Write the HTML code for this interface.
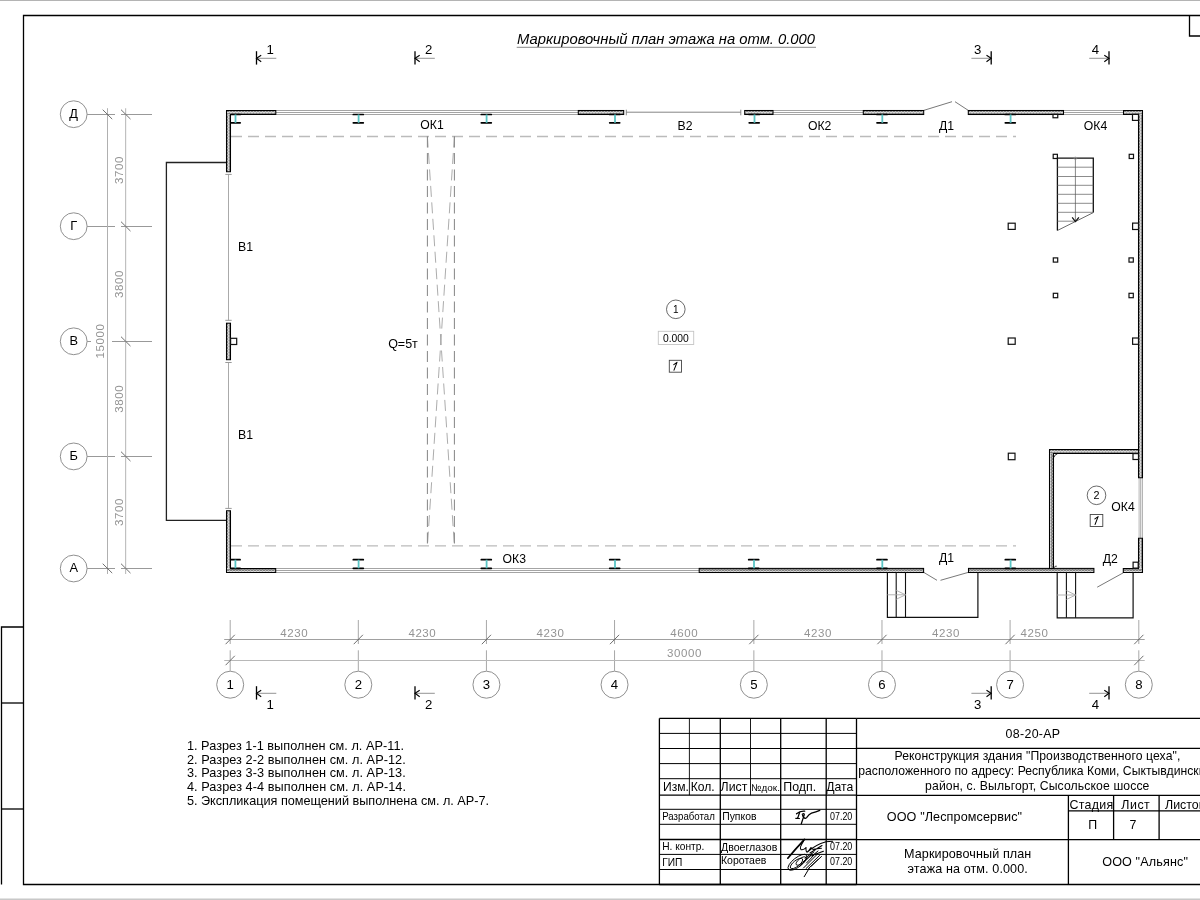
<!DOCTYPE html>
<html><head><meta charset="utf-8"><style>
html,body{margin:0;padding:0;background:#fff;width:1200px;height:900px;overflow:hidden}
svg{display:block;will-change:transform}
text{font-family:"Liberation Sans",sans-serif}
</style></head><body>
<svg width="1200" height="900" viewBox="0 0 1200 900">
<defs>
<pattern id="hatchH" patternUnits="userSpaceOnUse" x="0" y="111" width="3" height="3">
<rect width="3" height="3" fill="#7c7c7c"/>
<path d="M0,2.4 L1.5,0.7 L3,2.4" stroke="#ffffff" stroke-width="1.0" fill="none"/>
</pattern>
<pattern id="hatchV" patternUnits="userSpaceOnUse" x="227" y="0" width="3" height="3">
<rect width="3" height="3" fill="#7c7c7c"/>
<path d="M2.4,0 L0.7,1.5 L2.4,3" stroke="#ffffff" stroke-width="1.0" fill="none"/>
</pattern>
</defs>
<rect width="1200" height="900" fill="#fff"/>
<line x1="0" y1="0.5" x2="1200" y2="0.5" stroke="#b4b4b4" stroke-width="1.2"/>
<line x1="0" y1="899.3" x2="1200" y2="899.3" stroke="#c8c8c8" stroke-width="1.4"/>
<polyline points="1200,15.5 23.5,15.5 23.5,884.5 1200,884.5" stroke="#000" stroke-width="1.3" fill="none"/>
<polyline points="1189.5,15.5 1189.5,36 1200,36" stroke="#000" stroke-width="1.3" fill="none"/>
<polyline points="23.5,627 1.5,627 1.5,884.5" stroke="#000" stroke-width="1.3" fill="none"/>
<line x1="1.5" y1="703" x2="23.5" y2="703" stroke="#000" stroke-width="1.3"/>
<line x1="1.5" y1="809" x2="23.5" y2="809" stroke="#000" stroke-width="1.3"/>
<text x="517" y="43.7" font-size="14.8" text-anchor="start" fill="#000" font-style="italic">Маркировочный план этажа на отм. 0.000</text>
<line x1="516.7" y1="47.3" x2="816" y2="47.3" stroke="#888" stroke-width="1"/>
<line x1="231" y1="136.5" x2="1016" y2="136.5" stroke="#bbb" stroke-width="1.3" stroke-dasharray="11 6"/>
<line x1="231" y1="545.8" x2="1016" y2="545.8" stroke="#bbb" stroke-width="1.3" stroke-dasharray="11 6"/>
<line x1="427.4" y1="136.5" x2="427.4" y2="546" stroke="#666" stroke-width="0.8" stroke-dasharray="11 5.5"/>
<line x1="454.4" y1="136.5" x2="454.4" y2="546" stroke="#666" stroke-width="0.8" stroke-dasharray="11 5.5"/>
<line x1="427.4" y1="136.5" x2="454.4" y2="546" stroke="#888" stroke-width="0.7" stroke-dasharray="11 5.5"/>
<line x1="454.4" y1="136.5" x2="427.4" y2="546" stroke="#888" stroke-width="0.7" stroke-dasharray="11 5.5"/>
<polyline points="226.4,162.5 166.4,162.5 166.4,520.3 226.4,520.3" stroke="#222" stroke-width="1.3" fill="none"/>
<line x1="275.8" y1="110.5" x2="578.3" y2="110.5" stroke="#9a9a9a" stroke-width="0.9"/>
<line x1="275.8" y1="112.5" x2="578.3" y2="112.5" stroke="#9a9a9a" stroke-width="0.9"/>
<line x1="275.8" y1="114.5" x2="578.3" y2="114.5" stroke="#9a9a9a" stroke-width="0.9"/>
<line x1="773" y1="110.5" x2="863.3" y2="110.5" stroke="#9a9a9a" stroke-width="0.9"/>
<line x1="773" y1="112.5" x2="863.3" y2="112.5" stroke="#9a9a9a" stroke-width="0.9"/>
<line x1="773" y1="114.5" x2="863.3" y2="114.5" stroke="#9a9a9a" stroke-width="0.9"/>
<line x1="1063.5" y1="110.5" x2="1123.5" y2="110.5" stroke="#9a9a9a" stroke-width="0.9"/>
<line x1="1063.5" y1="112.5" x2="1123.5" y2="112.5" stroke="#9a9a9a" stroke-width="0.9"/>
<line x1="1063.5" y1="114.5" x2="1123.5" y2="114.5" stroke="#9a9a9a" stroke-width="0.9"/>
<line x1="275.7" y1="568.5" x2="699.2" y2="568.5" stroke="#9a9a9a" stroke-width="0.9"/>
<line x1="275.7" y1="570.5" x2="699.2" y2="570.5" stroke="#9a9a9a" stroke-width="0.9"/>
<line x1="275.7" y1="572.5" x2="699.2" y2="572.5" stroke="#9a9a9a" stroke-width="0.9"/>
<line x1="1139.2" y1="477.8" x2="1139.2" y2="538.3" stroke="#d4d4d4" stroke-width="1.8"/>
<line x1="1140.6" y1="477.8" x2="1140.6" y2="538.3" stroke="#a0a0a0" stroke-width="0.8"/>
<line x1="1142.3" y1="477.8" x2="1142.3" y2="538.3" stroke="#999" stroke-width="0.9"/>
<line x1="626.3" y1="112.2" x2="740.8" y2="112.2" stroke="#777" stroke-width="0.9"/>
<line x1="626.3" y1="109.7" x2="626.3" y2="115.3" stroke="#777" stroke-width="0.9"/>
<line x1="740.8" y1="109.7" x2="740.8" y2="115.3" stroke="#777" stroke-width="0.9"/>
<line x1="228.5" y1="174.4" x2="228.5" y2="320.3" stroke="#aaa" stroke-width="1"/>
<line x1="228.5" y1="362.5" x2="228.5" y2="508.4" stroke="#aaa" stroke-width="1"/>
<line x1="225.3" y1="174.4" x2="231.7" y2="174.4" stroke="#999" stroke-width="1"/>
<line x1="225.3" y1="320.3" x2="231.7" y2="320.3" stroke="#999" stroke-width="1"/>
<line x1="225.3" y1="362.5" x2="231.7" y2="362.5" stroke="#999" stroke-width="1"/>
<line x1="225.3" y1="508.4" x2="231.7" y2="508.4" stroke="#999" stroke-width="1"/>
<line x1="923.7" y1="110.4" x2="952" y2="101.7" stroke="#555" stroke-width="0.8"/>
<line x1="955" y1="101.7" x2="968.3" y2="110.4" stroke="#555" stroke-width="0.8"/>
<line x1="923.6" y1="572.3" x2="937" y2="580.3" stroke="#555" stroke-width="0.8"/>
<line x1="940.5" y1="580.3" x2="968.5" y2="572.3" stroke="#555" stroke-width="0.8"/>
<line x1="1123.3" y1="572.8" x2="1097.2" y2="587.2" stroke="#555" stroke-width="0.8"/>
<rect x="226.5" y="110.5" width="49.30000000000001" height="4.0" fill="url(#hatchH)"/>
<rect x="226.5" y="114.5" width="4.0" height="57.19999999999999" fill="url(#hatchV)"/>
<polygon points="226.5,110.5 275.8,110.5 275.8,114.5 230.5,114.5 230.5,171.7 226.5,171.7" stroke="#000" stroke-width="1.05" fill="none" stroke-linejoin="miter"/>
<rect x="578.3" y="110.5" width="45.40000000000009" height="4.0" stroke="#000" stroke-width="1.05" fill="url(#hatchH)"/>
<rect x="744.7" y="110.5" width="28.299999999999955" height="4.0" stroke="#000" stroke-width="1.05" fill="url(#hatchH)"/>
<rect x="863.3" y="110.5" width="60.40000000000009" height="4.0" stroke="#000" stroke-width="1.05" fill="url(#hatchH)"/>
<rect x="968.3" y="110.5" width="95.20000000000005" height="4.0" stroke="#000" stroke-width="1.05" fill="url(#hatchH)"/>
<rect x="1123.5" y="110.5" width="19.0" height="4.0" fill="url(#hatchH)"/>
<rect x="1138.5" y="114.5" width="4.0" height="363.3" fill="url(#hatchV)"/>
<polygon points="1123.5,110.5 1142.5,110.5 1142.5,477.8 1138.5,477.8 1138.5,114.5 1123.5,114.5" stroke="#000" stroke-width="1.05" fill="none" stroke-linejoin="miter"/>
<rect x="1138.5" y="538.3" width="4.0" height="30.100000000000023" fill="url(#hatchV)"/>
<rect x="1123.3" y="568.4" width="19.200000000000045" height="4.100000000000023" fill="url(#hatchH)"/>
<polygon points="1138.5,538.3 1142.5,538.3 1142.5,572.5 1123.3,572.5 1123.3,568.4 1138.5,568.4" stroke="#000" stroke-width="1.05" fill="none" stroke-linejoin="miter"/>
<rect x="226.5" y="510.8" width="4.0" height="57.599999999999966" fill="url(#hatchV)"/>
<rect x="226.5" y="568.4" width="49.19999999999999" height="4.100000000000023" fill="url(#hatchH)"/>
<polygon points="226.5,510.8 230.5,510.8 230.5,568.4 275.7,568.4 275.7,572.5 226.5,572.5" stroke="#000" stroke-width="1.05" fill="none" stroke-linejoin="miter"/>
<rect x="699.2" y="568.4" width="224.39999999999998" height="4.100000000000023" stroke="#000" stroke-width="1.05" fill="url(#hatchH)"/>
<rect x="968.5" y="568.4" width="125.40000000000009" height="4.100000000000023" stroke="#000" stroke-width="1.05" fill="url(#hatchH)"/>
<rect x="226.5" y="323.2" width="4.0" height="36.5" stroke="#000" stroke-width="1.05" fill="url(#hatchV)"/>
<rect x="1049.5" y="449.5" width="89.0" height="4.0" fill="url(#hatchH)"/>
<rect x="1049.5" y="453.5" width="4.0" height="114.89999999999998" fill="url(#hatchV)"/>
<polygon points="1049.5,568.4 1049.5,449.5 1138.5,449.5 1138.5,453.5 1053.5,453.5 1053.5,568.4" stroke="#000" stroke-width="1.05" fill="none" stroke-linejoin="miter"/>
<path d="M1054.2,457.2 Q1054.4,454.3 1057.2,454.2" stroke="#333" stroke-width="0.9" fill="none"/>
<path d="M1054.2,567.8 Q1054.6,565.6 1056.8,566.2" stroke="#333" stroke-width="0.9" fill="none"/>
<line x1="231.2" y1="114.5" x2="240.2" y2="114.5" stroke="#000" stroke-width="1.7" stroke-linecap="round"/>
<line x1="231.2" y1="122.8" x2="240.2" y2="122.8" stroke="#000" stroke-width="1.7" stroke-linecap="round"/>
<line x1="235.5" y1="114.5" x2="235.5" y2="122.8" stroke="#5ac4c4" stroke-width="1.8"/>
<line x1="353.3" y1="114.5" x2="363.3" y2="114.5" stroke="#000" stroke-width="1.7" stroke-linecap="round"/>
<line x1="353.3" y1="122.8" x2="363.3" y2="122.8" stroke="#000" stroke-width="1.7" stroke-linecap="round"/>
<line x1="358.6" y1="114.5" x2="358.6" y2="122.8" stroke="#5ac4c4" stroke-width="1.8"/>
<line x1="481.3" y1="114.5" x2="491.3" y2="114.5" stroke="#000" stroke-width="1.7" stroke-linecap="round"/>
<line x1="481.3" y1="122.8" x2="491.3" y2="122.8" stroke="#000" stroke-width="1.7" stroke-linecap="round"/>
<line x1="486.6" y1="114.5" x2="486.6" y2="122.8" stroke="#5ac4c4" stroke-width="1.8"/>
<line x1="609.7" y1="114.5" x2="619.7" y2="114.5" stroke="#000" stroke-width="1.7" stroke-linecap="round"/>
<line x1="609.7" y1="122.8" x2="619.7" y2="122.8" stroke="#000" stroke-width="1.7" stroke-linecap="round"/>
<line x1="615.0" y1="114.5" x2="615.0" y2="122.8" stroke="#5ac4c4" stroke-width="1.8"/>
<line x1="749.2" y1="114.5" x2="759.2" y2="114.5" stroke="#000" stroke-width="1.7" stroke-linecap="round"/>
<line x1="749.2" y1="122.8" x2="759.2" y2="122.8" stroke="#000" stroke-width="1.7" stroke-linecap="round"/>
<line x1="754.5" y1="114.5" x2="754.5" y2="122.8" stroke="#5ac4c4" stroke-width="1.8"/>
<line x1="877.0" y1="114.5" x2="887.0" y2="114.5" stroke="#000" stroke-width="1.7" stroke-linecap="round"/>
<line x1="877.0" y1="122.8" x2="887.0" y2="122.8" stroke="#000" stroke-width="1.7" stroke-linecap="round"/>
<line x1="882.3" y1="114.5" x2="882.3" y2="122.8" stroke="#5ac4c4" stroke-width="1.8"/>
<line x1="1005.3" y1="114.5" x2="1015.3" y2="114.5" stroke="#000" stroke-width="1.7" stroke-linecap="round"/>
<line x1="1005.3" y1="122.8" x2="1015.3" y2="122.8" stroke="#000" stroke-width="1.7" stroke-linecap="round"/>
<line x1="1010.5999999999999" y1="114.5" x2="1010.5999999999999" y2="122.8" stroke="#5ac4c4" stroke-width="1.8"/>
<line x1="231.2" y1="559.7" x2="240.1" y2="559.7" stroke="#000" stroke-width="1.7" stroke-linecap="round"/>
<line x1="231.2" y1="568.3" x2="240.1" y2="568.3" stroke="#000" stroke-width="1.7" stroke-linecap="round"/>
<line x1="235.4" y1="559.7" x2="235.4" y2="568.3" stroke="#5ac4c4" stroke-width="1.8"/>
<line x1="353.3" y1="559.7" x2="363.3" y2="559.7" stroke="#000" stroke-width="1.7" stroke-linecap="round"/>
<line x1="353.3" y1="568.3" x2="363.3" y2="568.3" stroke="#000" stroke-width="1.7" stroke-linecap="round"/>
<line x1="358.6" y1="559.7" x2="358.6" y2="568.3" stroke="#5ac4c4" stroke-width="1.8"/>
<line x1="481.3" y1="559.7" x2="491.3" y2="559.7" stroke="#000" stroke-width="1.7" stroke-linecap="round"/>
<line x1="481.3" y1="568.3" x2="491.3" y2="568.3" stroke="#000" stroke-width="1.7" stroke-linecap="round"/>
<line x1="486.6" y1="559.7" x2="486.6" y2="568.3" stroke="#5ac4c4" stroke-width="1.8"/>
<line x1="609.7" y1="559.7" x2="619.7" y2="559.7" stroke="#000" stroke-width="1.7" stroke-linecap="round"/>
<line x1="609.7" y1="568.3" x2="619.7" y2="568.3" stroke="#000" stroke-width="1.7" stroke-linecap="round"/>
<line x1="615.0" y1="559.7" x2="615.0" y2="568.3" stroke="#5ac4c4" stroke-width="1.8"/>
<line x1="748.7" y1="559.7" x2="758.7" y2="559.7" stroke="#000" stroke-width="1.7" stroke-linecap="round"/>
<line x1="748.7" y1="568.3" x2="758.7" y2="568.3" stroke="#000" stroke-width="1.7" stroke-linecap="round"/>
<line x1="754.0" y1="559.7" x2="754.0" y2="568.3" stroke="#5ac4c4" stroke-width="1.8"/>
<line x1="877.0" y1="559.7" x2="887.0" y2="559.7" stroke="#000" stroke-width="1.7" stroke-linecap="round"/>
<line x1="877.0" y1="568.3" x2="887.0" y2="568.3" stroke="#000" stroke-width="1.7" stroke-linecap="round"/>
<line x1="882.3" y1="559.7" x2="882.3" y2="568.3" stroke="#5ac4c4" stroke-width="1.8"/>
<line x1="1005.3" y1="559.7" x2="1015.3" y2="559.7" stroke="#000" stroke-width="1.7" stroke-linecap="round"/>
<line x1="1005.3" y1="568.3" x2="1015.3" y2="568.3" stroke="#000" stroke-width="1.7" stroke-linecap="round"/>
<line x1="1010.5999999999999" y1="559.7" x2="1010.5999999999999" y2="568.3" stroke="#5ac4c4" stroke-width="1.8"/>
<rect x="1053" y="114.4" width="4.75" height="3.3499999999999943" stroke="#111" stroke-width="1.2" fill="#fff"/>
<rect x="1132.5" y="114.4" width="6.0" height="6.0" stroke="#111" stroke-width="1.2" fill="#fff"/>
<rect x="1053.2" y="154.3" width="4.2000000000000455" height="4.199999999999989" stroke="#111" stroke-width="1.2" fill="#fff"/>
<rect x="1129.2" y="154.3" width="4.2999999999999545" height="4.199999999999989" stroke="#111" stroke-width="1.2" fill="#fff"/>
<rect x="1008.2" y="223.2" width="7.0" height="6.200000000000017" stroke="#111" stroke-width="1.2" fill="#fff"/>
<rect x="1132.6" y="223.1" width="5.900000000000091" height="6.400000000000006" stroke="#111" stroke-width="1.2" fill="#fff"/>
<rect x="1053.3" y="257.9" width="4.400000000000091" height="4.2000000000000455" stroke="#111" stroke-width="1.2" fill="#fff"/>
<rect x="1129" y="257.9" width="4.2999999999999545" height="4.2000000000000455" stroke="#111" stroke-width="1.2" fill="#fff"/>
<rect x="1053.3" y="293.3" width="4.400000000000091" height="4.399999999999977" stroke="#111" stroke-width="1.2" fill="#fff"/>
<rect x="1129" y="293.3" width="4.2999999999999545" height="4.399999999999977" stroke="#111" stroke-width="1.2" fill="#fff"/>
<rect x="1008.2" y="338" width="7.0" height="6.300000000000011" stroke="#111" stroke-width="1.2" fill="#fff"/>
<rect x="1132.6" y="338" width="5.900000000000091" height="6.300000000000011" stroke="#111" stroke-width="1.2" fill="#fff"/>
<rect x="1008.3" y="453.2" width="6.7000000000000455" height="6.5" stroke="#111" stroke-width="1.2" fill="#fff"/>
<rect x="1133" y="453.6" width="5.5" height="5.899999999999977" stroke="#111" stroke-width="1.2" fill="#fff"/>
<rect x="1133.1" y="562.2" width="5.100000000000136" height="5.899999999999977" stroke="#111" stroke-width="1.2" fill="#fff"/>
<rect x="230.6" y="338.3" width="6.099999999999994" height="6.199999999999989" stroke="#111" stroke-width="1.2" fill="#fff"/>
<polyline points="1057.4,230.5 1057.4,158.2 1093.3,158.2 1093.3,212.6" stroke="#111" stroke-width="1.3" fill="none"/>
<line x1="1093.3" y1="212.6" x2="1057.4" y2="230.5" stroke="#444" stroke-width="0.8"/>
<line x1="1057.4" y1="167.2" x2="1093.3" y2="167.2" stroke="#666" stroke-width="0.75"/>
<line x1="1057.4" y1="176.5" x2="1093.3" y2="176.5" stroke="#666" stroke-width="0.75"/>
<line x1="1057.4" y1="185.3" x2="1093.3" y2="185.3" stroke="#666" stroke-width="0.75"/>
<line x1="1057.4" y1="194.3" x2="1093.3" y2="194.3" stroke="#666" stroke-width="0.75"/>
<line x1="1057.4" y1="203.3" x2="1093.3" y2="203.3" stroke="#666" stroke-width="0.75"/>
<line x1="1057.4" y1="212.3" x2="1093.3" y2="212.3" stroke="#666" stroke-width="0.75"/>
<line x1="1057.4" y1="221.2" x2="1076" y2="221.2" stroke="#666" stroke-width="0.75"/>
<line x1="1075.4" y1="158" x2="1075.4" y2="221.6" stroke="#555" stroke-width="0.7"/>
<polyline points="1072.2,217.3 1075.4,221.6 1078.9,217.3" stroke="#111" stroke-width="1.25" fill="none"/>
<circle cx="1075.4" cy="158.3" r="1.3" stroke="#999" stroke-width="0.6" fill="none"/>
<polyline points="887.4,572.3 887.4,617.4 977.9,617.4 977.9,572.3" stroke="#111" stroke-width="1.2" fill="none"/>
<line x1="896.2" y1="572.3" x2="896.2" y2="617.4" stroke="#111" stroke-width="1.1"/>
<line x1="905.5" y1="572.3" x2="905.5" y2="617.4" stroke="#111" stroke-width="1.1"/>
<line x1="887.4" y1="594.8" x2="905.5" y2="594.8" stroke="#aaa" stroke-width="0.9"/>
<polyline points="896.2,590.3 905.5,594.8 896.2,599.3" stroke="#aaa" stroke-width="0.9" fill="none"/>
<polyline points="1057.2,572.3 1057.2,617.8 1133.1,617.8 1133.1,572.3" stroke="#111" stroke-width="1.2" fill="none"/>
<line x1="1066.4" y1="572.3" x2="1066.4" y2="617.8" stroke="#111" stroke-width="1.1"/>
<line x1="1075.6" y1="572.3" x2="1075.6" y2="617.8" stroke="#111" stroke-width="1.1"/>
<line x1="1057.2" y1="595" x2="1075.6" y2="595" stroke="#aaa" stroke-width="0.9"/>
<polyline points="1066.4,590.5 1075.6,595 1066.4,599.5" stroke="#aaa" stroke-width="0.9" fill="none"/>
<text x="432" y="128.7" font-size="12.2" text-anchor="middle" fill="#000">ОК1</text>
<text x="685" y="129.5" font-size="12.2" text-anchor="middle" fill="#000">В2</text>
<text x="819.6" y="129.5" font-size="12.2" text-anchor="middle" fill="#000">ОК2</text>
<text x="946.5" y="129.5" font-size="12.2" text-anchor="middle" fill="#000">Д1</text>
<text x="1095.5" y="129.7" font-size="12.2" text-anchor="middle" fill="#000">ОК4</text>
<text x="245.6" y="251.0" font-size="12.3" text-anchor="middle" fill="#000">В1</text>
<text x="245.6" y="439.3" font-size="12.3" text-anchor="middle" fill="#000">В1</text>
<text x="403" y="347.5" font-size="12.5" text-anchor="middle" fill="#000">Q=5т</text>
<text x="514.3" y="563.3" font-size="12.2" text-anchor="middle" fill="#000">ОК3</text>
<text x="946.5" y="562.2" font-size="12.2" text-anchor="middle" fill="#000">Д1</text>
<text x="1110.3" y="562.8" font-size="12.2" text-anchor="middle" fill="#000">Д2</text>
<text x="1123" y="510.8" font-size="12.2" text-anchor="middle" fill="#000">ОК4</text>
<circle cx="675.8" cy="309.3" r="9.3" stroke="#444" stroke-width="0.8" fill="none"/>
<text x="675.8" y="312.9" font-size="10" text-anchor="middle" fill="#000">1</text>
<rect x="658.3" y="331.3" width="35.4" height="13.2" stroke="#c4c4c4" stroke-width="0.9" fill="none"/>
<text x="675.8" y="342" font-size="10.3" text-anchor="middle" fill="#000">0.000</text>
<rect x="669.3" y="360.3" width="12.2" height="11.9" stroke="#444" stroke-width="0.9" fill="#fff"/>
<path d="M677.0,362.35 L674.0,370.15 M677.0,362.35 L673.8,364.65" stroke="#000" stroke-width="1.05" fill="none" stroke-linecap="round"/>
<circle cx="1096.5" cy="495.3" r="9.3" stroke="#444" stroke-width="0.8" fill="none"/>
<text x="1096.5" y="499.2" font-size="10.8" text-anchor="middle" fill="#000">2</text>
<rect x="1090.2" y="514.5" width="12.6" height="12" stroke="#444" stroke-width="0.9" fill="#fff"/>
<path d="M1098.1,516.6 L1095.1,524.4 M1098.1,516.6 L1094.9,518.9" stroke="#000" stroke-width="1.05" fill="none" stroke-linecap="round"/>
<circle cx="230.2" cy="684.7" r="13.5" stroke="#8a8a8a" stroke-width="0.95" fill="none"/>
<text x="230.2" y="688.9" font-size="13.2" text-anchor="middle" fill="#000">1</text>
<line x1="230.2" y1="620" x2="230.2" y2="644" stroke="#a8a8a8" stroke-width="1"/>
<line x1="230.2" y1="650.3" x2="230.2" y2="671" stroke="#a8a8a8" stroke-width="1"/>
<circle cx="358.31401" cy="684.7" r="13.5" stroke="#8a8a8a" stroke-width="0.95" fill="none"/>
<text x="358.31401" y="688.9" font-size="13.2" text-anchor="middle" fill="#000">2</text>
<line x1="358.31401" y1="620" x2="358.31401" y2="644" stroke="#a8a8a8" stroke-width="1"/>
<line x1="358.31401" y1="650.3" x2="358.31401" y2="671" stroke="#a8a8a8" stroke-width="1"/>
<circle cx="486.42802" cy="684.7" r="13.5" stroke="#8a8a8a" stroke-width="0.95" fill="none"/>
<text x="486.42802" y="688.9" font-size="13.2" text-anchor="middle" fill="#000">3</text>
<line x1="486.42802" y1="620" x2="486.42802" y2="644" stroke="#a8a8a8" stroke-width="1"/>
<line x1="486.42802" y1="650.3" x2="486.42802" y2="671" stroke="#a8a8a8" stroke-width="1"/>
<circle cx="614.5420300000001" cy="684.7" r="13.5" stroke="#8a8a8a" stroke-width="0.95" fill="none"/>
<text x="614.5420300000001" y="688.9" font-size="13.2" text-anchor="middle" fill="#000">4</text>
<line x1="614.5420300000001" y1="620" x2="614.5420300000001" y2="644" stroke="#a8a8a8" stroke-width="1"/>
<line x1="614.5420300000001" y1="650.3" x2="614.5420300000001" y2="671" stroke="#a8a8a8" stroke-width="1"/>
<circle cx="753.86223" cy="684.7" r="13.5" stroke="#8a8a8a" stroke-width="0.95" fill="none"/>
<text x="753.86223" y="688.9" font-size="13.2" text-anchor="middle" fill="#000">5</text>
<line x1="753.86223" y1="620" x2="753.86223" y2="644" stroke="#a8a8a8" stroke-width="1"/>
<line x1="753.86223" y1="650.3" x2="753.86223" y2="671" stroke="#a8a8a8" stroke-width="1"/>
<circle cx="881.97624" cy="684.7" r="13.5" stroke="#8a8a8a" stroke-width="0.95" fill="none"/>
<text x="881.97624" y="688.9" font-size="13.2" text-anchor="middle" fill="#000">6</text>
<line x1="881.97624" y1="620" x2="881.97624" y2="644" stroke="#a8a8a8" stroke-width="1"/>
<line x1="881.97624" y1="650.3" x2="881.97624" y2="671" stroke="#a8a8a8" stroke-width="1"/>
<circle cx="1010.09025" cy="684.7" r="13.5" stroke="#8a8a8a" stroke-width="0.95" fill="none"/>
<text x="1010.09025" y="688.9" font-size="13.2" text-anchor="middle" fill="#000">7</text>
<line x1="1010.09025" y1="620" x2="1010.09025" y2="644" stroke="#a8a8a8" stroke-width="1"/>
<line x1="1010.09025" y1="650.3" x2="1010.09025" y2="671" stroke="#a8a8a8" stroke-width="1"/>
<circle cx="1138.81" cy="684.7" r="13.5" stroke="#8a8a8a" stroke-width="0.95" fill="none"/>
<text x="1138.81" y="688.9" font-size="13.2" text-anchor="middle" fill="#000">8</text>
<line x1="1138.81" y1="620" x2="1138.81" y2="644" stroke="#a8a8a8" stroke-width="1"/>
<line x1="1138.81" y1="650.3" x2="1138.81" y2="671" stroke="#a8a8a8" stroke-width="1"/>
<line x1="224.2" y1="639.5" x2="1144.7" y2="639.5" stroke="#a0a0a0" stroke-width="1"/>
<line x1="224.2" y1="660.5" x2="1144.7" y2="660.5" stroke="#b8b8b8" stroke-width="1.2"/>
<line x1="225.6" y1="644.2" x2="234.79999999999998" y2="634.8" stroke="#555" stroke-width="0.85"/>
<line x1="353.71401" y1="644.2" x2="362.91401" y2="634.8" stroke="#555" stroke-width="0.85"/>
<line x1="481.82802" y1="644.2" x2="491.02802" y2="634.8" stroke="#555" stroke-width="0.85"/>
<line x1="609.94203" y1="644.2" x2="619.1420300000001" y2="634.8" stroke="#555" stroke-width="0.85"/>
<line x1="749.2622299999999" y1="644.2" x2="758.46223" y2="634.8" stroke="#555" stroke-width="0.85"/>
<line x1="877.3762399999999" y1="644.2" x2="886.57624" y2="634.8" stroke="#555" stroke-width="0.85"/>
<line x1="1005.49025" y1="644.2" x2="1014.69025" y2="634.8" stroke="#555" stroke-width="0.85"/>
<line x1="1134.21" y1="644.2" x2="1143.4099999999999" y2="634.8" stroke="#555" stroke-width="0.85"/>
<line x1="225.6" y1="665.2" x2="234.79999999999998" y2="655.8" stroke="#555" stroke-width="0.85"/>
<line x1="1134.21" y1="665.2" x2="1143.4099999999999" y2="655.8" stroke="#555" stroke-width="0.85"/>
<text x="294.257005" y="636.7" font-size="11.5" text-anchor="middle" fill="#939393" letter-spacing="0.58">4230</text>
<text x="422.371015" y="636.7" font-size="11.5" text-anchor="middle" fill="#939393" letter-spacing="0.58">4230</text>
<text x="550.4850250000001" y="636.7" font-size="11.5" text-anchor="middle" fill="#939393" letter-spacing="0.58">4230</text>
<text x="684.20213" y="636.7" font-size="11.5" text-anchor="middle" fill="#939393" letter-spacing="0.58">4600</text>
<text x="817.919235" y="636.7" font-size="11.5" text-anchor="middle" fill="#939393" letter-spacing="0.58">4230</text>
<text x="946.033245" y="636.7" font-size="11.5" text-anchor="middle" fill="#939393" letter-spacing="0.58">4230</text>
<text x="1020.5" y="636.7" font-size="11.5" text-anchor="start" fill="#939393" letter-spacing="0.58">4250</text>
<text x="684.5" y="657" font-size="11.5" text-anchor="middle" fill="#939393" letter-spacing="0.58">30000</text>
<circle cx="73.7" cy="568.5" r="13.4" stroke="#8a8a8a" stroke-width="0.95" fill="none"/>
<text x="73.7" y="572.0" font-size="12.8" text-anchor="middle" fill="#000">А</text>
<circle cx="73.7" cy="456.4" r="13.4" stroke="#8a8a8a" stroke-width="0.95" fill="none"/>
<text x="73.7" y="459.9" font-size="12.8" text-anchor="middle" fill="#000">Б</text>
<circle cx="73.7" cy="341.3" r="13.4" stroke="#8a8a8a" stroke-width="0.95" fill="none"/>
<text x="73.7" y="344.8" font-size="12.8" text-anchor="middle" fill="#000">В</text>
<circle cx="73.7" cy="226.2" r="13.4" stroke="#8a8a8a" stroke-width="0.95" fill="none"/>
<text x="73.7" y="229.7" font-size="12.8" text-anchor="middle" fill="#000">Г</text>
<circle cx="73.7" cy="114.2" r="13.4" stroke="#8a8a8a" stroke-width="0.95" fill="none"/>
<text x="73.7" y="117.7" font-size="12.8" text-anchor="middle" fill="#000">Д</text>
<line x1="87" y1="114.5" x2="115" y2="114.5" stroke="#999" stroke-width="1"/>
<line x1="121" y1="114.5" x2="152" y2="114.5" stroke="#999" stroke-width="1"/>
<line x1="87" y1="226.5" x2="115" y2="226.5" stroke="#999" stroke-width="1"/>
<line x1="121" y1="226.5" x2="152" y2="226.5" stroke="#999" stroke-width="1"/>
<line x1="87" y1="341.5" x2="91" y2="341.5" stroke="#999" stroke-width="1"/>
<line x1="112" y1="341.5" x2="152" y2="341.5" stroke="#999" stroke-width="1"/>
<line x1="87" y1="456.5" x2="115" y2="456.5" stroke="#999" stroke-width="1"/>
<line x1="121" y1="456.5" x2="152" y2="456.5" stroke="#999" stroke-width="1"/>
<line x1="87" y1="568.5" x2="115" y2="568.5" stroke="#999" stroke-width="1"/>
<line x1="121" y1="568.5" x2="152" y2="568.5" stroke="#999" stroke-width="1"/>
<line x1="107.5" y1="108.2" x2="107.5" y2="574" stroke="#b0b0b0" stroke-width="1"/>
<line x1="125.6" y1="108.2" x2="125.6" y2="574" stroke="#c0c0c0" stroke-width="1.2"/>
<line x1="102.7" y1="109.7" x2="112.2" y2="119.1" stroke="#555" stroke-width="0.85"/>
<line x1="102.7" y1="563.7" x2="112.2" y2="573.1" stroke="#555" stroke-width="0.85"/>
<line x1="121.0" y1="109.7" x2="130.5" y2="119.1" stroke="#555" stroke-width="0.85"/>
<line x1="121.0" y1="221.7" x2="130.5" y2="231.1" stroke="#555" stroke-width="0.85"/>
<line x1="121.0" y1="336.7" x2="130.5" y2="346.1" stroke="#555" stroke-width="0.85"/>
<line x1="121.0" y1="451.7" x2="130.5" y2="461.1" stroke="#555" stroke-width="0.85"/>
<line x1="121.0" y1="563.7" x2="130.5" y2="573.1" stroke="#555" stroke-width="0.85"/>
<text x="123.3" y="170" font-size="11.5" text-anchor="middle" fill="#939393" letter-spacing="0.58" transform="rotate(-90 123.3 170)">3700</text>
<text x="123.3" y="398.7" font-size="11.5" text-anchor="middle" fill="#939393" letter-spacing="0.58" transform="rotate(-90 123.3 398.7)">3800</text>
<text x="123.3" y="284" font-size="11.5" text-anchor="middle" fill="#939393" letter-spacing="0.58" transform="rotate(-90 123.3 284)">3800</text>
<text x="104.0" y="341.0" font-size="11.5" text-anchor="middle" fill="#939393" letter-spacing="0.58" transform="rotate(-90 104.0 341.0)">15000</text>
<text x="123.3" y="512" font-size="11.5" text-anchor="middle" fill="#939393" letter-spacing="0.58" transform="rotate(-90 123.3 512)">3700</text>
<line x1="256.5" y1="51.199999999999996" x2="256.5" y2="64.6" stroke="#000" stroke-width="1.3"/>
<line x1="256.5" y1="58.3" x2="276.3" y2="58.3" stroke="#888" stroke-width="0.9"/>
<polyline points="261.2,55.199999999999996 256.5,58.3 261.2,61.699999999999996" stroke="#000" stroke-width="1.1" fill="none"/>
<text x="270.1" y="53.7" font-size="13.2" text-anchor="middle" fill="#000">1</text>
<line x1="415" y1="51.199999999999996" x2="415" y2="64.6" stroke="#000" stroke-width="1.3"/>
<line x1="415" y1="58.3" x2="434.8" y2="58.3" stroke="#888" stroke-width="0.9"/>
<polyline points="419.7,55.199999999999996 415,58.3 419.7,61.699999999999996" stroke="#000" stroke-width="1.1" fill="none"/>
<text x="428.6" y="53.7" font-size="13.2" text-anchor="middle" fill="#000">2</text>
<line x1="991.2" y1="51.199999999999996" x2="991.2" y2="64.6" stroke="#000" stroke-width="1.3"/>
<line x1="991.2" y1="58.3" x2="971.4000000000001" y2="58.3" stroke="#888" stroke-width="0.9"/>
<polyline points="986.5,55.199999999999996 991.2,58.3 986.5,61.699999999999996" stroke="#000" stroke-width="1.1" fill="none"/>
<text x="977.6" y="53.7" font-size="13.2" text-anchor="middle" fill="#000">3</text>
<line x1="1109" y1="51.199999999999996" x2="1109" y2="64.6" stroke="#000" stroke-width="1.3"/>
<line x1="1109" y1="58.3" x2="1089.2" y2="58.3" stroke="#888" stroke-width="0.9"/>
<polyline points="1104.3,55.199999999999996 1109,58.3 1104.3,61.699999999999996" stroke="#000" stroke-width="1.1" fill="none"/>
<text x="1095.4" y="53.7" font-size="13.2" text-anchor="middle" fill="#000">4</text>
<line x1="256.5" y1="686.1999999999999" x2="256.5" y2="699.5999999999999" stroke="#000" stroke-width="1.3"/>
<line x1="256.5" y1="693.3" x2="276.3" y2="693.3" stroke="#888" stroke-width="0.9"/>
<polyline points="261.2,690.1999999999999 256.5,693.3 261.2,696.6999999999999" stroke="#000" stroke-width="1.1" fill="none"/>
<text x="270.1" y="709.4" font-size="13.2" text-anchor="middle" fill="#000">1</text>
<line x1="415" y1="686.1999999999999" x2="415" y2="699.5999999999999" stroke="#000" stroke-width="1.3"/>
<line x1="415" y1="693.3" x2="434.8" y2="693.3" stroke="#888" stroke-width="0.9"/>
<polyline points="419.7,690.1999999999999 415,693.3 419.7,696.6999999999999" stroke="#000" stroke-width="1.1" fill="none"/>
<text x="428.6" y="709.4" font-size="13.2" text-anchor="middle" fill="#000">2</text>
<line x1="991.2" y1="686.1999999999999" x2="991.2" y2="699.5999999999999" stroke="#000" stroke-width="1.3"/>
<line x1="991.2" y1="693.3" x2="971.4000000000001" y2="693.3" stroke="#888" stroke-width="0.9"/>
<polyline points="986.5,690.1999999999999 991.2,693.3 986.5,696.6999999999999" stroke="#000" stroke-width="1.1" fill="none"/>
<text x="977.6" y="709.4" font-size="13.2" text-anchor="middle" fill="#000">3</text>
<line x1="1109" y1="686.1999999999999" x2="1109" y2="699.5999999999999" stroke="#000" stroke-width="1.3"/>
<line x1="1109" y1="693.3" x2="1089.2" y2="693.3" stroke="#888" stroke-width="0.9"/>
<polyline points="1104.3,690.1999999999999 1109,693.3 1104.3,696.6999999999999" stroke="#000" stroke-width="1.1" fill="none"/>
<text x="1095.4" y="709.4" font-size="13.2" text-anchor="middle" fill="#000">4</text>
<text x="186.9" y="750.0" font-size="12.7" text-anchor="start" fill="#000" textLength="217.1" lengthAdjust="spacing">1. Разрез 1-1 выполнен см. л. АР-11.</text>
<text x="186.9" y="763.67" font-size="12.7" text-anchor="start" fill="#000" textLength="218.8" lengthAdjust="spacing">2. Разрез 2-2 выполнен см. л. АР-12.</text>
<text x="186.9" y="777.34" font-size="12.7" text-anchor="start" fill="#000" textLength="218.8" lengthAdjust="spacing">3. Разрез 3-3 выполнен см. л. АР-13.</text>
<text x="186.9" y="791.01" font-size="12.7" text-anchor="start" fill="#000" textLength="219.1" lengthAdjust="spacing">4. Разрез 4-4 выполнен см. л. АР-14.</text>
<text x="186.9" y="804.68" font-size="12.7" text-anchor="start" fill="#000" textLength="302.1" lengthAdjust="spacing">5. Экспликация помещений выполнена см. л. АР-7.</text>
<line x1="659.4" y1="718.4" x2="856.5" y2="718.4" stroke="#000" stroke-width="1.3"/>
<line x1="659.4" y1="733.4" x2="856.5" y2="733.4" stroke="#000" stroke-width="1.0"/>
<line x1="659.4" y1="748.5" x2="856.5" y2="748.5" stroke="#000" stroke-width="1.0"/>
<line x1="659.4" y1="763.6" x2="856.5" y2="763.6" stroke="#000" stroke-width="1.0"/>
<line x1="659.4" y1="778.7" x2="856.5" y2="778.7" stroke="#000" stroke-width="1.0"/>
<line x1="659.4" y1="795.2" x2="856.5" y2="795.2" stroke="#000" stroke-width="1.3"/>
<line x1="659.4" y1="809.3" x2="856.5" y2="809.3" stroke="#000" stroke-width="1.0"/>
<line x1="659.4" y1="824.3" x2="856.5" y2="824.3" stroke="#000" stroke-width="1.0"/>
<line x1="659.4" y1="839.5" x2="856.5" y2="839.5" stroke="#000" stroke-width="1.3"/>
<line x1="659.4" y1="854.4" x2="856.5" y2="854.4" stroke="#000" stroke-width="1.0"/>
<line x1="659.4" y1="869.5" x2="856.5" y2="869.5" stroke="#000" stroke-width="1.0"/>
<line x1="659.4" y1="884.5" x2="856.5" y2="884.5" stroke="#000" stroke-width="1.3"/>
<line x1="856.5" y1="718.4" x2="1221" y2="718.4" stroke="#000" stroke-width="1.3"/>
<line x1="856.5" y1="748.3" x2="1221" y2="748.3" stroke="#000" stroke-width="1.3"/>
<line x1="856.5" y1="795.4" x2="1221" y2="795.4" stroke="#000" stroke-width="1.3"/>
<line x1="856.5" y1="839.6" x2="1221" y2="839.6" stroke="#000" stroke-width="1.3"/>
<line x1="1068.4" y1="810.8" x2="1221" y2="810.8" stroke="#000" stroke-width="1.3"/>
<line x1="659.4" y1="718.4" x2="659.4" y2="884.5" stroke="#000" stroke-width="1.3"/>
<line x1="689.4" y1="718.4" x2="689.4" y2="795.2" stroke="#000" stroke-width="0.9"/>
<line x1="720.3" y1="718.4" x2="720.3" y2="884.5" stroke="#000" stroke-width="1.3"/>
<line x1="750.5" y1="718.4" x2="750.5" y2="795.2" stroke="#000" stroke-width="0.9"/>
<line x1="780.7" y1="718.4" x2="780.7" y2="884.5" stroke="#000" stroke-width="1.3"/>
<line x1="826.2" y1="718.4" x2="826.2" y2="884.5" stroke="#000" stroke-width="1.3"/>
<line x1="856.5" y1="718.4" x2="856.5" y2="884.5" stroke="#000" stroke-width="1.3"/>
<line x1="1068.4" y1="795.4" x2="1068.4" y2="884.5" stroke="#000" stroke-width="1.3"/>
<line x1="1113.6" y1="795.4" x2="1113.6" y2="839.6" stroke="#000" stroke-width="1.3"/>
<line x1="1159.1" y1="795.4" x2="1159.1" y2="839.6" stroke="#000" stroke-width="1.3"/>
<text x="663.0" y="790.6" font-size="12.1" text-anchor="start" fill="#000">Изм.</text>
<text x="690.8" y="790.6" font-size="12.1" text-anchor="start" fill="#000">Кол.</text>
<text x="720.6" y="790.6" font-size="12.3" text-anchor="start" fill="#000">Лист</text>
<text x="751" y="790.6" font-size="9.9" text-anchor="start" fill="#000">№док.</text>
<text x="783.3" y="790.6" font-size="12.4" text-anchor="start" fill="#000">Подп.</text>
<text x="826.3" y="790.6" font-size="12.2" text-anchor="start" fill="#000">Дата</text>
<text x="662.2" y="819.7" font-size="10.3" text-anchor="start" fill="#000" textLength="52.6" lengthAdjust="spacingAndGlyphs">Разработал</text>
<text x="722.2" y="820" font-size="10.4" text-anchor="start" fill="#000">Пупков</text>
<text x="662.2" y="850.4" font-size="10.2" text-anchor="start" fill="#000">Н. контр.</text>
<text x="721.0" y="850.5" font-size="10.6" text-anchor="start" fill="#000">Двоеглазов</text>
<text x="662.2" y="866" font-size="10.2" text-anchor="start" fill="#000">ГИП</text>
<text x="721.0" y="864.4" font-size="10.5" text-anchor="start" fill="#000">Коротаев</text>
<text x="830.0" y="820.3" font-size="10.3" text-anchor="start" fill="#000" textLength="22.3" lengthAdjust="spacingAndGlyphs">07.20</text>
<text x="830.0" y="850.4" font-size="10.3" text-anchor="start" fill="#000" textLength="22.3" lengthAdjust="spacingAndGlyphs">07.20</text>
<text x="830.0" y="865" font-size="10.3" text-anchor="start" fill="#000" textLength="22.3" lengthAdjust="spacingAndGlyphs">07.20</text>
<text x="1005.6" y="737.7" font-size="12.4" text-anchor="start" fill="#000" textLength="54.5" lengthAdjust="spacing">08-20-АР</text>
<text x="894.5" y="759.7" font-size="12.2" text-anchor="start" fill="#000" textLength="285.8" lengthAdjust="spacing">Реконструкция здания "Производственного цеха",</text>
<text x="858.3" y="774.6" font-size="12.2" text-anchor="start" fill="#000">расположенного по адресу: Республика Коми, Сыктывдинский</text>
<text x="925.1" y="789.7" font-size="12.2" text-anchor="start" fill="#000" textLength="224.3" lengthAdjust="spacing">район, с. Выльгорт, Сысольское шоссе</text>
<text x="886.8" y="820.6" font-size="12.6" text-anchor="start" fill="#000" textLength="135.3" lengthAdjust="spacing">ООО "Леспромсервис"</text>
<text x="904.0" y="857.8" font-size="12.6" text-anchor="start" fill="#000" textLength="127.3" lengthAdjust="spacing">Маркировочный план</text>
<text x="907.6" y="873.0" font-size="12.6" text-anchor="start" fill="#000" textLength="120.2" lengthAdjust="spacing">этажа на отм. 0.000.</text>
<text x="1069.5" y="808.7" font-size="12.4" text-anchor="start" fill="#000" textLength="43.8" lengthAdjust="spacing">Стадия</text>
<text x="1121.3" y="808.7" font-size="12.4" text-anchor="start" fill="#000" textLength="28.5" lengthAdjust="spacing">Лист</text>
<text x="1165.0" y="808.7" font-size="12.4" text-anchor="start" fill="#000">Листов</text>
<text x="1092.8" y="829" font-size="12.4" text-anchor="middle" fill="#000">П</text>
<text x="1132.9" y="829" font-size="12.4" text-anchor="middle" fill="#000">7</text>
<text x="1102.2" y="865.8" font-size="12.6" text-anchor="start" fill="#000" textLength="85.7" lengthAdjust="spacing">ООО "Альянс"</text>
<path d="M796.5,813.8 Q800,810.8 804.7,811.2 M799.7,812.3 L797.6,818.4 M795.8,818.3 L799.4,818.5 M802.3,814.3 Q804.2,812.6 804.3,814.6 L801.3,823.8 M802.6,815.6 Q804.6,819.6 806.6,817.6 Q809,814.2 811.5,813.2 Q816,811.9 819.8,810.3" stroke="#000" stroke-width="1.25" fill="none" stroke-linecap="round" stroke-linejoin="round"/>
<path d="M787.8,858.2 Q795,849.5 804.5,839.3" stroke="#000" stroke-width="1.7" fill="none" stroke-linecap="round"/>
<path d="M803.5,841.2 Q799,848 801,849.6 Q804,850.2 806,847.5 Q805.8,851.6 807,852.2 Q809,851 811,847.6 Q813,850.2 815,849 L821.4,848.2 M808,851.7 Q815,845 826,841.8 L832.6,841.3 M812,855.6 L823.4,851.2 M810,853 L822,845.5" stroke="#000" stroke-width="1.1" fill="none" stroke-linecap="round" stroke-linejoin="round"/>
<g stroke="#000" stroke-width="0.9" fill="none"><ellipse cx="797.5" cy="862.3" rx="11.5" ry="4.6" transform="rotate(-38 797.5 862.3)"/><ellipse cx="796.5" cy="863.5" rx="7.5" ry="3" transform="rotate(-38 796.5 863.5)"/><ellipse cx="801" cy="861" rx="6" ry="2.5" transform="rotate(-38 801 861)"/></g>
<path d="M803.5,868 L817,854.5 M806,868.6 L819.5,855.5 M808.5,868.4 L821.5,856.5 M811,866.5 L818.5,859 M806.5,863 L815,854 M809.2,868.3 L804.2,876.7 M800,866 L812,854.5 M803,862 L811,855 M812,856 L818,851 M805,858 L814,852" stroke="#000" stroke-width="1" fill="none" stroke-linecap="round"/>
</svg>
</body></html>
